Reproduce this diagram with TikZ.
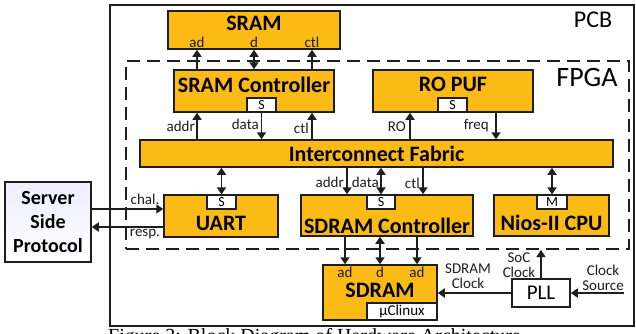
\documentclass[tikz,border=0pt]{standalone}
\usepackage{fontspec}
\setmainfont{Carlito}
\newfontfamily\capfont{Liberation Serif}
\usetikzlibrary{positioning, calc, arrows.meta}
\definecolor{blockfill}{RGB}{251,186,20}
\definecolor{linegray}{RGB}{30,30,30}

\begin{document}
\begin{tikzpicture}[x=1pt,y=-1pt]
	 \tikzstyle{block}=[rectangle,draw=linegray,line width=1.5pt,fill=blockfill,inner sep=0pt]
	 \tikzstyle{tab}=[rectangle,draw=linegray,line width=1.2pt,fill=white,inner sep=0pt,font=\fontsize{14}{14}\selectfont]
	 \tikzstyle{title}=[font=\fontsize{22}{22}\selectfont\bfseries,inner sep=0pt]
	 \tikzstyle{lbl}=[font=\fontsize{15}{15}\selectfont,inner sep=0pt,text=linegray]
	 \tikzstyle{twolbl}=[lbl,align=center,font=\fontsize{15}{14.5}\selectfont]
	 \tikzstyle{sig}=[draw=linegray,line width=1.7pt,-{Triangle[width=9pt,length=7pt]}]
	 \tikzstyle{dsig}=[draw=linegray,line width=1.7pt,{Triangle[width=9pt,length=7pt]}-{Triangle[width=9pt,length=7pt]}]
	 \useasboundingbox (0,0) rectangle (636,333);
	 \fill[white] (0,0) rectangle (636,333);
	 % board and chip outlines
	 \node[draw=linegray,line width=2pt,minimum width=524pt,minimum height=321pt] (pcb) at (372,165.5) {};
	 \node[draw=linegray,line width=2pt,dash pattern=on 13pt off 7pt,minimum width=503pt,minimum height=188pt] (fpga) at (377.5,155) {};
	 \node[font=\fontsize{24}{24}\selectfont] (pcblbl) at (593,20) {PCB};
	 \node[font=\fontsize{28}{28}\selectfont] (fpgalbl) at (587,78) {FPGA};
	 % blocks
	 \node[block,minimum width=172pt,minimum height=38pt] (sram) at (254,30) {};
	 \node[title] (sramt) at (254,23) {SRAM};
	 \node[lbl] (sad) at (197,42) {ad};
	 \node[lbl] (sd) at (254,42) {d};
	 \node[lbl] (sctl) at (312,42) {ctl};
	 \node[block,minimum width=160pt,minimum height=42pt] (sramctl) at (254,91) {};
	 \node[title] (sramctlt) at (254,85) {SRAM Controller};
	 \node[tab,minimum width=29pt,minimum height=14pt] (srams) at (261.5,105) {S};
	 \node[block,minimum width=160pt,minimum height=42pt] (ropuf) at (453,91) {};
	 \node[title] (ropuft) at (453,84) {RO PUF};
	 \node[tab,minimum width=29pt,minimum height=14pt] (ropufs) at (452.5,105) {S};
	 \node[block,minimum width=473pt,minimum height=27pt] (fabric) at (376.5,153.5) {};
	 \node[title] (fabrict) at (376.5,153.5) {Interconnect Fabric};
	 \node[block,minimum width=114pt,minimum height=42pt] (uart) at (221,216) {};
	 \node[title] (uartt) at (221,223) {UART};
	 \node[tab,minimum width=29pt,minimum height=14pt] (uarts) at (221.5,202) {S};
	 \node[block,minimum width=172pt,minimum height=41pt] (sdramctl) at (387,215.5) {};
	 \node[title] (sdramctlt) at (387,226) {SDRAM Controller};
	 \node[tab,minimum width=28pt,minimum height=14pt] (sdrams) at (381,202) {S};
	 \node[block,minimum width=115pt,minimum height=41pt] (cpu) at (551.5,215.5) {};
	 \node[title] (cput) at (551.5,223) {Nios-II CPU};
	 \node[tab,minimum width=30pt,minimum height=14pt] (cpum) at (552,202) {M};
	 \node[block,minimum width=114pt,minimum height=55pt] (sdram) at (380,292.5) {};
	 \node[title] (sdramt) at (380,290) {SDRAM};
	 \node[lbl] (dad) at (345,272) {ad};
	 \node[lbl] (dd) at (380,272) {d};
	 \node[lbl] (dad2) at (417,272) {ad};
	 \node[tab,minimum width=70pt,minimum height=17pt,font=\fontsize{15}{15}\selectfont] (uclinux) at (402,311.5) {µClinux};
	 \node[draw=linegray,line width=1.5pt,fill=white,minimum width=58pt,minimum height=28pt,inner sep=0pt,font=\fontsize{21}{21}\selectfont] (pll) at (541,293) {PLL};
	 \node[draw=linegray,line width=1.5pt,top color=blue!7,bottom color=white,minimum width=86pt,minimum height=80pt,inner sep=0pt,align=center,font=\fontsize{20}{24}\selectfont\bfseries] (server) at (48,222) {Server\\Side\\Protocol};
	 % SRAM side
	 \draw[sig] (sramctl.north -| sad) -- (sram.south -| sad);
	 \draw[dsig] (sramctl.north -| sd) -- (sram.south -| sd);
	 \draw[sig] (sramctl.north -| sctl) -- (sram.south -| sctl);
	 \draw[sig] (fabric.north -| sad) -- (sramctl.south -| sad);
	 \draw[sig] (srams.south) -- (fabric.north -| srams);
	 \draw[sig] (fabric.north -| sctl) -- (sramctl.south -| sctl);
	 \node[lbl,anchor=east] (addr1) at (195,126) {addr};
	 \node[lbl,anchor=east] (data1) at (259,124) {data};
	 \node[lbl,anchor=east] (ctl1) at (309,128) {ctl};
	 % PUF side
	 \coordinate (roin) at ([xshift=-43pt]ropuf.south);
	 \coordinate (roout) at ([xshift=43pt]ropuf.south);
	 \draw[sig] (fabric.north -| roin) -- (roin);
	 \draw[sig] (roout) -- (fabric.north -| roout);
	 \node[lbl,anchor=east] (rolbl) at (406,127) {RO};
	 \node[lbl,anchor=east] (freqlbl) at (489,126) {freq};
	 % lower slaves and master
	 \coordinate (addrin) at ([xshift=-40pt]sdramctl.north);
	 \coordinate (ctlin) at ([xshift=36pt]sdramctl.north);
	 \draw[dsig] (fabric.south -| uarts) -- (uarts.north);
	 \draw[sig] (fabric.south -| addrin) -- (addrin);
	 \draw[dsig] (fabric.south -| sdrams) -- (sdrams.north);
	 \draw[sig] (fabric.south -| ctlin) -- (ctlin);
	 \draw[dsig] (fabric.south -| cpum) -- (cpum.north);
	 \node[lbl,anchor=east] (addr2) at (344,182) {addr};
	 \node[lbl,anchor=east] (data2) at (379,182) {data};
	 \node[lbl,anchor=east] (ctl2) at (420,183) {ctl};
	 % SDRAM
	 \draw[sig] (sdramctl.south -| dad) -- (sdram.north -| dad);
	 \draw[dsig] (sdramctl.south -| dd) -- (sdram.north -| dd);
	 \draw[sig] (sdramctl.south -| dad2) -- (sdram.north -| dad2);
	 % clocks
	 \coordinate (clksrc) at (624,293);
	 \draw[sig] (pll.west) -- (sdram.east |- pll.west);
	 \draw[sig] (pll.north) -- (fpga.south -| pll.north);
	 \draw[sig] (clksrc) -- (pll.east);
	 \node[twolbl] (sdclk) at (468,276) {SDRAM\\Clock};
	 \node[twolbl] (socclk) at (519,265) {SoC\\Clock};
	 \node[twolbl] (srclbl) at (603,278) {Clock\\Source};
	 % challenge / response
	 \coordinate (chalout) at ([yshift=13pt]server.east);
	 \coordinate (respin) at ([yshift=-5pt]server.east);
	 \draw[sig] (chalout) -- (uart.west |- chalout);
	 \draw[sig] (uart.west |- respin) -- (respin);
	 \node[lbl] (chal) at (145,199) {chal.};
	 \node[lbl] (resp) at (145,234) {resp.};
	 \node[font=\capfont\fontsize{20}{20}\selectfont,inner sep=0pt,anchor=north west] (cap) at (108,328) {Figure 3: Block Diagram of Hardware Architecture};
 \end{tikzpicture}
\end{document}
